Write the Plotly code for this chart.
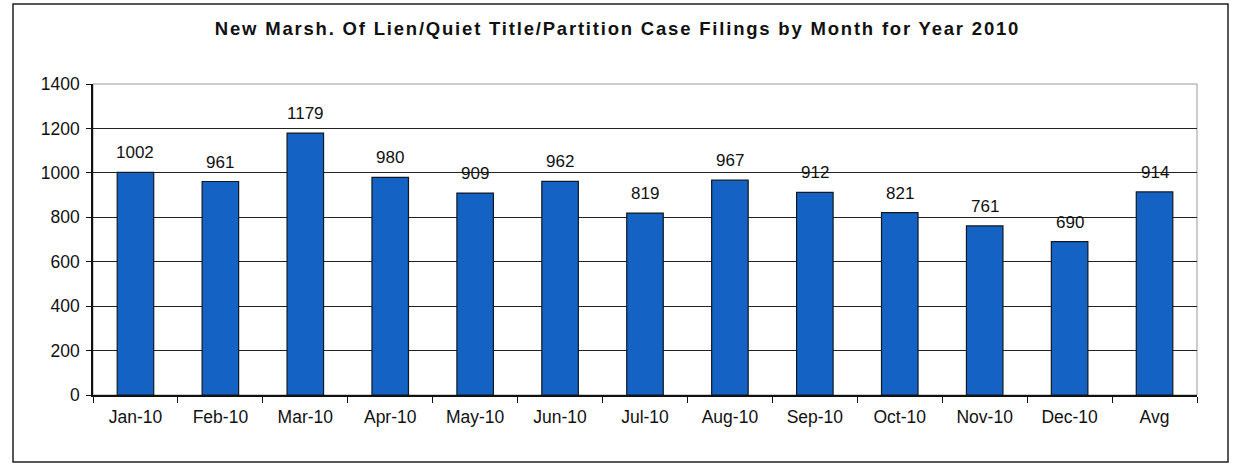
import plotly.graph_objects as go

months = ['Jan-10', 'Feb-10', 'Mar-10', 'Apr-10', 'May-10', 'Jun-10', 'Jul-10',
          'Aug-10', 'Sep-10', 'Oct-10', 'Nov-10', 'Dec-10', 'Avg']
filings = [1002, 961, 1179, 980, 909, 962, 819, 967, 912, 821, 761, 690, 914]
y_ticks = [0, 200, 400, 600, 800, 1000, 1200, 1400]

W, H = 1235, 466
L, R, T, B = 93, 38, 84, 71
pw, ph = W - L - R, H - T - B

fig = go.Figure(go.Bar(
    x=months, y=filings,
    marker=dict(color='#1462C4', line=dict(color='#101820', width=1.2)),
    width=0.43,
))

# data labels, sitting a bit higher above the bars as Excel draws them
for m, v in zip(months, filings):
    fig.add_annotation(x=m, y=v, text=str(v), showarrow=False,
                       yanchor='bottom', yshift=8,
                       font=dict(size=17, color='#111'))

# outer chart border (Excel style)
fig.add_shape(type='rect', xref='paper', yref='paper',
              x0=(13 - L) / pw, x1=(1228 - L) / pw,
              y0=-(B - 4) / ph, y1=1 + (T - 4) / ph,
              line=dict(color='#222', width=1.5))
# light frame on top/right of plot area
fig.add_shape(type='rect', xref='paper', yref='paper', x0=0, x1=1, y0=0, y1=1,
              line=dict(color='#999', width=1), layer='below')

fig.update_layout(
    width=W, height=H,
    margin=dict(l=L, r=R, t=T, b=B),
    paper_bgcolor='white', plot_bgcolor='white',
    font=dict(family='Liberation Sans, Arial', size=17.5, color='#111'),
    title=dict(text='<b>New Marsh. Of Lien/Quiet Title/Partition Case Filings by Month for Year 2010</b>',
               x=0.5, xref='container', xanchor='center', y=1 - 29 / H, yanchor='middle',
               font=dict(size=18.5)),
    showlegend=False,
)
fig.update_xaxes(
    showline=True, linecolor='#111', linewidth=1.5,
    ticks='outside', tickson='boundaries', ticklen=6, tickcolor='#111',
    ticklabelstandoff=5, showgrid=False,
)
fig.update_yaxes(
    range=[0, 1400], tickvals=y_ticks,
    showline=True, linecolor='#111', linewidth=1.5,
    ticks='outside', ticklen=5, tickcolor='#111',
    ticklabelstandoff=3,
    showgrid=True, gridcolor='#222', gridwidth=1.2,
    zeroline=False,
)

# drop the page margin and widen the title's letter spacing like the original
js = ("document.body.style.margin='0';"
      "document.querySelectorAll('.gtitle').forEach(function(e){e.style.letterSpacing='1.8px';});")
fig.write_html("out.html", post_script=js, config={'displayModeBar': False})
